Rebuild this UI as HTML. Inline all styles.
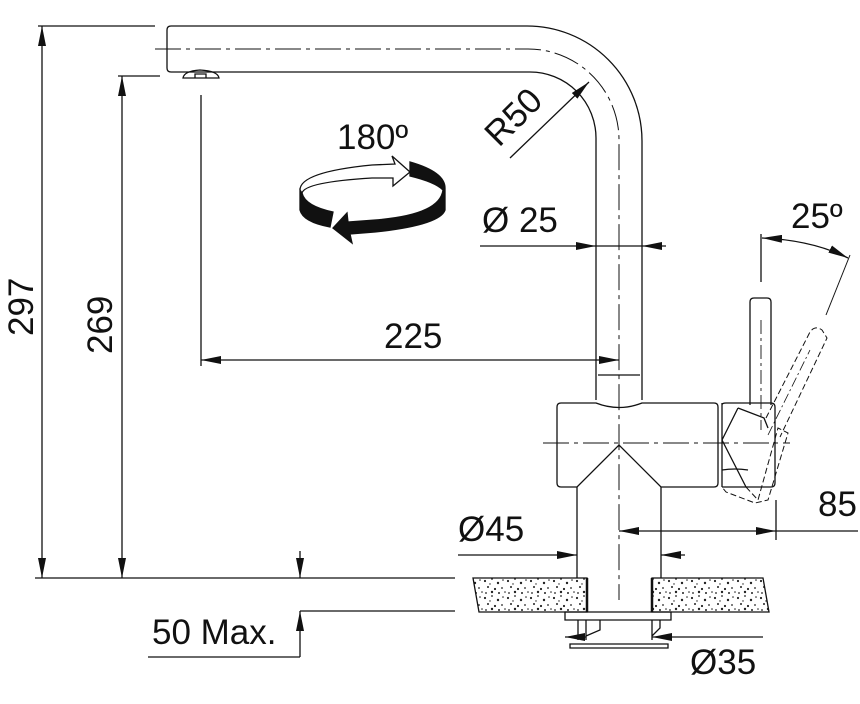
<!DOCTYPE html>
<html><head><meta charset="utf-8"><style>
html,body{margin:0;padding:0;background:#fff}
svg{display:block}
text{font-family:"Liberation Sans",Arial,sans-serif;font-size:35px;fill:#111}
</style></head><body>
<svg width="860" height="704" viewBox="0 0 860 704" xmlns="http://www.w3.org/2000/svg">
<defs>
<marker id="a" viewBox="0 0 20 8" refX="20" refY="4" markerWidth="20" markerHeight="8" markerUnits="userSpaceOnUse" orient="auto-start-reverse"><path d="M0,0 L20,4 L0,8 z" fill="#111"/></marker>
<pattern id="sp" width="23" height="17" patternUnits="userSpaceOnUse">
<rect width="23" height="17" fill="#fff"/>
<g fill="#222"><circle cx="2" cy="3" r="1.1"/><circle cx="9" cy="1" r="0.9"/><circle cx="15" cy="5" r="1.2"/><circle cx="20" cy="2" r="0.8"/><circle cx="5" cy="9" r="1"/><circle cx="12" cy="11" r="1.1"/><circle cx="19" cy="10" r="0.9"/><circle cx="3" cy="15" r="0.9"/><circle cx="9" cy="14" r="1.2"/><circle cx="16" cy="15" r="1"/><circle cx="22" cy="14" r="0.8"/><circle cx="7" cy="6" r="0.7"/></g>
</pattern>
</defs>
<g fill="none" stroke="#111" stroke-width="1.3">
<!-- spout -->
<path d="M171,26 L527,26 A115,115 0 0 1 642,141 L642,400"/>
<path d="M171,72 L530,72 A66,66 0 0 1 596,138 L596,400"/>
<path d="M171,26 Q167,26 167,30 L167,68 Q167,72 171,72"/>
<path d="M183,78 Q184,71 200,70 Q218,71 219,78 Z M195,78 L195,74 L206,74 L206,78"/>
<path d="M155,49 L528,49 A91,91 0 0 1 619,140 L619,600" stroke-dasharray="26,5,4,5" stroke-width="1"/>
<path d="M598,375 L640,375"/>
<!-- body -->
<path d="M561,403 L596,403 Q619,412 642,403 L714,403 Q718,403 718,407 L718,483 Q718,487 714,487 L661,487 L619,445 L577,487 L561,487 Q557,487 557,483 L557,407 Q557,403 561,403 Z"/>
<path d="M577,487 L577,578 M661,487 L661,578"/>
<path d="M543,443 L790,443" stroke-dasharray="26,5,4,5" stroke-width="1"/>
<!-- lever -->
<path d="M750,405 L750,302 Q750,298 754,298 L767,298 Q771,298 771,302 L771,405"/>
<path d="M761,320 L761,430" stroke-dasharray="14,4,3,4" stroke-width="0.9"/>
<path d="M722,403 L722,487 M722,405 Q722,403 726,403 L771,403 Q775,403 775,407 L775,483 Q775,487 771,487 L722,487"/>
<path d="M738,408 L764,418 L768,428 M722,440 L738,408 M722,440 L746,487" />
<path d="M746,487 L758,500 L778,428 L788,433 L768,500 L755,503 L726,492 L722,487" stroke-dasharray="6,3" stroke-width="1"/>
<path d="M722,470 Q735,468 748,470" />
<path d="M766,418 L810,332 Q815,325 822,330 L827,338 L780,437" stroke-dasharray="6,3" stroke-width="1"/>
<path d="M768,435 L810,350" stroke-dasharray="10,3,2,3" stroke-width="0.8"/>
<!-- 25 deg -->
<path d="M761,234 L761,282"/>
<path d="M826,315 L850,255" stroke-width="1"/>
<path d="M762,238 Q812,240 848,258" marker-start="url(#a)" marker-end="url(#a)"/>
<!-- dims -->
<path d="M155,26 L38,26 M160,76 L118,76 M455,578 L35,578 M455,611 L300,611"/>
<path d="M42,26 L42,578" marker-start="url(#a)" marker-end="url(#a)"/>
<path d="M122,76 L122,578" marker-start="url(#a)" marker-end="url(#a)"/>
<path d="M201,95 L201,366"/>
<path d="M201,360 L619,360" marker-start="url(#a)" marker-end="url(#a)"/>
<path d="M480,246 L596,246" marker-end="url(#a)"/>
<path d="M596,246 L642,246"/>
<path d="M666,246 L642,246" marker-end="url(#a)"/>
<path d="M510,158 L589,82" marker-end="url(#a)"/>
<path d="M619,531 L776,531" marker-start="url(#a)" marker-end="url(#a)"/>
<path d="M776,500 L776,540 M776,531 L858,531"/>
<path d="M458,555 L577,555" marker-end="url(#a)"/>
<path d="M685,555 L661,555" marker-end="url(#a)"/>
<path d="M300,551 L300,578" marker-end="url(#a)"/>
<path d="M300,657 L300,611" marker-end="url(#a)"/>
<path d="M148,657 L300,657"/>
<!-- countertop -->
<path d="M473,578 L587,578 L587,612 L479,612 Z" fill="url(#sp)"/>
<path d="M652,578 L763,578 L769,612 L652,612 Z" fill="url(#sp)"/>
<path d="M587,578 L587,612 M652,578 L652,612" stroke-width="2.5"/>
<path d="M565,612 L671,612 L671,620 L565,620 Z"/>
<path d="M578,620 L578,640 M652,620 L652,640 M586,620 L586,640 M600,620 L600,630 L586,636 M660,620 L660,628 L652,636"/>
<path d="M570,644 L668,644 L668,648 L570,648 Z"/>
<path d="M565,637 L586,637" marker-start="url(#a)"/>
<path d="M763,637 L652,637" marker-end="url(#a)"/>
<!-- rotation arrow -->
<path d="M300,190 Q300,172 372,165 L395,164 L392,156 L410,172 L393,186 L393,178 L372,178 Q305,182 302,193" fill="#fff"/>
<path d="M410,162 Q445,172 445,188 L445,210 Q440,225 375,232 L350,234 L352,243 L333,228 L347,213 L348,222 L375,220 Q440,215 443,190 Q435,182 410,176 Z" fill="#111"/>
<path d="M300,190 L300,210 Q303,222 330,227 L333,212 Q305,206 302,193 Z" fill="#111"/>
</g>
<text x="337" y="149">180º</text>
<text x="0" y="0" transform="translate(499,148) rotate(-45)">R50</text>
<text x="482" y="232">Ø 25</text>
<text x="791" y="228">25º</text>
<text x="384" y="348">225</text>
<text x="0" y="0" transform="translate(33,336) rotate(-90)">297</text>
<text x="0" y="0" transform="translate(112,354) rotate(-90)">269</text>
<text x="818" y="516">85</text>
<text x="458" y="541">Ø45</text>
<text x="690" y="674">Ø35</text>
<text x="152" y="644">50 Max.</text>
</svg>
</body></html>
